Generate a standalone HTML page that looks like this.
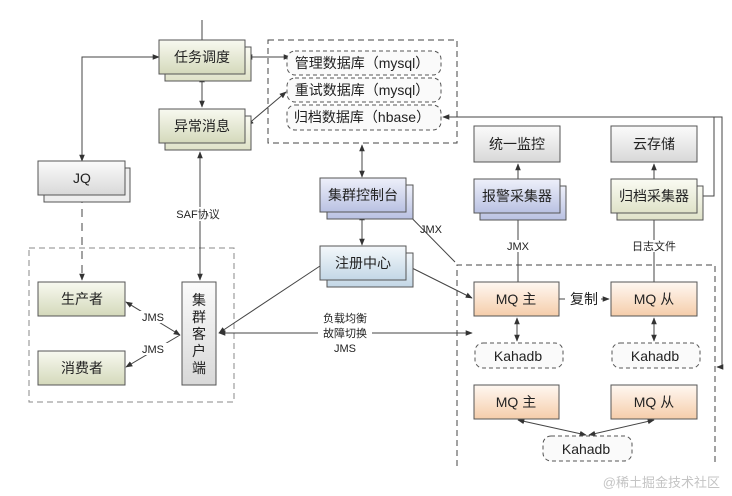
<!DOCTYPE html>
<html><head><meta charset="utf-8"><style>
html,body{margin:0;padding:0;background:#fff}
svg{display:block}
text{font-family:"Liberation Sans","Noto Sans CJK SC",sans-serif;fill:#222}
</style></head><body>
<svg width="732" height="496" viewBox="0 0 732 496" xmlns="http://www.w3.org/2000/svg">
<defs>
<linearGradient id="gg" x1="0" y1="0" x2="0" y2="1"><stop offset="0" stop-color="#f8f9f0"/><stop offset="1" stop-color="#d4d9bb"/></linearGradient>
<linearGradient id="gb" x1="0" y1="0" x2="0" y2="1"><stop offset="0" stop-color="#eef0fa"/><stop offset="1" stop-color="#b9c1e2"/></linearGradient>
<linearGradient id="gr" x1="0" y1="0" x2="0" y2="1"><stop offset="0" stop-color="#fbfbfb"/><stop offset="1" stop-color="#d8d8d8"/></linearGradient>
<linearGradient id="go" x1="0" y1="0" x2="0" y2="1"><stop offset="0" stop-color="#fff8f2"/><stop offset="1" stop-color="#f5cdaa"/></linearGradient>
<linearGradient id="gz" x1="0" y1="0" x2="0" y2="1"><stop offset="0" stop-color="#f4f8fb"/><stop offset="1" stop-color="#c3d7e6"/></linearGradient>
<linearGradient id="gy" x1="0" y1="0" x2="0" y2="1"><stop offset="0" stop-color="#fafbf3"/><stop offset="1" stop-color="#dfe2c8"/></linearGradient>
<marker id="a" viewBox="0 0 10 10" refX="9" refY="5" markerWidth="7" markerHeight="7" orient="auto-start-reverse"><path d="M0,1 L10,5 L0,9 z" fill="#333"/></marker>
</defs>
<g fill="none" stroke="#444" stroke-width="1" stroke-dasharray="6,4">
<rect x="268" y="40" width="189" height="103"/>
<rect x="29" y="248" width="205" height="154" stroke="#888"/>
<path d="M457,466 V265 H715 V466"/>
<path d="M82,195 V280" marker-end="url(#a)" stroke-dasharray="8,6"/>
</g>
<g stroke="#444" stroke-width="1" fill="none">
<path d="M202,20 V40"/>
<path d="M159,57 H82 V161" marker-start="url(#a)" marker-end="url(#a)"/>
<path d="M202,76 V107" marker-start="url(#a)" marker-end="url(#a)"/>
<path d="M246,57 H290" marker-start="url(#a)" marker-end="url(#a)"/>
<path d="M247,125 L286,92" marker-start="url(#a)" marker-end="url(#a)"/>
<path d="M200,152 V280" marker-start="url(#a)" marker-end="url(#a)"/>
<path d="M362,145 V177" marker-start="url(#a)" marker-end="url(#a)"/>
<path d="M362,214 V245" marker-start="url(#a)" marker-end="url(#a)"/>
<path d="M455,262 L394,200" marker-end="url(#a)"/>
<path d="M406,265 L472,298" marker-end="url(#a)"/>
<path d="M320,266 L219,333" marker-end="url(#a)"/>
<path d="M219,333 H472" marker-start="url(#a)" marker-end="url(#a)"/>
<path d="M518,282 V214" marker-end="url(#a)"/>
<path d="M518,179 V164" marker-end="url(#a)"/>
<path d="M654,282 V214" marker-end="url(#a)"/>
<path d="M654,179 V164" marker-end="url(#a)"/>
<path d="M697,196 H714 V117"/>
<path d="M722,367 V117 H443" marker-end="url(#a)"/>
<path d="M722,367 H717" marker-end="url(#a)"/>
<path d="M559,299 H609" marker-end="url(#a)"/>
<path d="M517,318 V341" marker-start="url(#a)" marker-end="url(#a)"/>
<path d="M654,318 V341" marker-start="url(#a)" marker-end="url(#a)"/>
<path d="M518,420 L586,435" marker-start="url(#a)" marker-end="url(#a)"/>
<path d="M654,420 L589,435" marker-start="url(#a)" marker-end="url(#a)"/>
<path d="M126,302 L180,335" marker-start="url(#a)" marker-end="url(#a)"/>
<path d="M126,367 L180,335" marker-start="url(#a)"/>
</g>
<g stroke="#555" stroke-width="1">
<rect x="165" y="47" width="86" height="34" fill="url(#gy)"/>
<rect x="165" y="116" width="86" height="34" fill="url(#gy)"/>
<rect x="44" y="168" width="86" height="34" fill="#eee"/>
<rect x="327" y="185" width="86" height="34" fill="url(#gb)"/>
<rect x="327" y="253" width="86" height="34" fill="url(#gz)"/>
<rect x="480" y="186" width="86" height="34" fill="url(#gb)"/>
<rect x="617" y="186" width="86" height="34" fill="url(#gy)"/>
<rect x="159" y="40" width="86" height="34" fill="url(#gg)"/>
<rect x="159" y="109" width="86" height="34" fill="url(#gg)"/>
<rect x="38" y="161" width="87" height="34" fill="url(#gr)"/>
<rect x="320" y="178" width="86" height="34" fill="url(#gb)"/>
<rect x="320" y="246" width="86" height="34" fill="url(#gz)"/>
<rect x="474" y="126" width="86" height="36" fill="url(#gr)"/>
<rect x="611" y="126" width="86" height="36" fill="url(#gr)"/>
<rect x="474" y="179" width="86" height="34" fill="url(#gb)"/>
<rect x="611" y="179" width="86" height="34" fill="url(#gy)"/>
<rect x="38" y="282" width="87" height="34" fill="url(#gg)"/>
<rect x="38" y="351" width="87" height="34" fill="url(#gg)"/>
<rect x="182" y="282" width="34" height="103" fill="url(#gr)"/>
<rect x="474" y="282" width="85" height="34" fill="url(#go)"/>
<rect x="611" y="282" width="86" height="34" fill="url(#go)"/>
<rect x="474" y="385" width="85" height="34" fill="url(#go)"/>
<rect x="611" y="385" width="86" height="34" fill="url(#go)"/>
</g>
<g fill="#fafafa" stroke="#555" stroke-dasharray="4,3">
<rect x="287" y="51" width="154" height="24" rx="8"/>
<rect x="287" y="78" width="154" height="24" rx="8"/>
<rect x="287" y="105" width="154" height="25" rx="8"/>
<rect x="475" y="343" width="88" height="25" rx="8"/>
<rect x="612" y="343" width="88" height="25" rx="8"/>
<rect x="543" y="436" width="89" height="25" rx="8"/>
</g>
<g font-size="14" text-anchor="middle">
<text x="202" y="62">任务调度</text>
<text x="202" y="131">异常消息</text>
<text x="82" y="183">JQ</text>
<text x="363" y="200">集群控制台</text>
<text x="363" y="268">注册中心</text>
<text x="517" y="149">统一监控</text>
<text x="654" y="149">云存储</text>
<text x="517" y="201">报警采集器</text>
<text x="654" y="201">归档采集器</text>
<text x="82" y="304">生产者</text>
<text x="82" y="373">消费者</text>
<text x="516" y="304">MQ 主</text>
<text x="654" y="304">MQ 从</text>
<text x="516" y="407">MQ 主</text>
<text x="654" y="407">MQ 从</text>
<text x="518" y="361">Kahadb</text>
<text x="655" y="361">Kahadb</text>
<text x="586" y="454">Kahadb</text>
<text x="362" y="68">管理数据库（mysql）</text>
<text x="362" y="95">重试数据库（mysql）</text>
<text x="362" y="122">归档数据库（hbase）</text>
<text x="199" y="305">集</text><text x="199" y="322">群</text><text x="199" y="339">客</text><text x="199" y="356">户</text><text x="199" y="373">端</text>
</g>
<rect x="565" y="291" width="36" height="16" fill="#fff"/>
<text x="584" y="304" font-size="14" text-anchor="middle">复制</text>
<g font-size="11" text-anchor="middle">
<rect x="168" y="207" width="58" height="14" fill="#fff"/>
<text x="198" y="218">SAF协议</text>
<rect x="505" y="240" width="26" height="12" fill="#fff"/>
<text x="518" y="250">JMX</text>
<rect x="628" y="240" width="52" height="12" fill="#fff"/>
<text x="654" y="250">日志文件</text>
<text x="431" y="233">JMX</text>
<rect x="138" y="311" width="30" height="12" fill="#fff"/>
<text x="153" y="321">JMS</text>
<rect x="138" y="343" width="30" height="12" fill="#fff"/>
<text x="153" y="353">JMS</text>
<text x="345" y="322">负载均衡</text>
<rect x="318" y="326" width="54" height="13" fill="#fff"/>
<text x="345" y="337">故障切换</text>
<text x="345" y="352">JMS</text>
</g>
<text x="720" y="487" font-size="13" text-anchor="end" style="fill:#c4c4c4">@稀土掘金技术社区</text>
</svg>
</body></html>
